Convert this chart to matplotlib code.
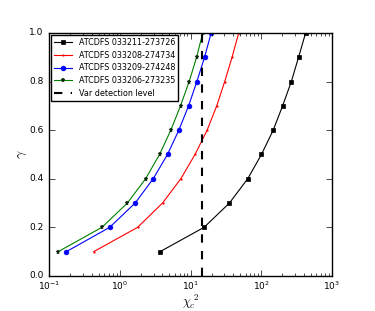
import matplotlib
matplotlib.use("Agg")
import matplotlib.pyplot as plt

gamma = [0.1, 0.2, 0.3, 0.4, 0.5, 0.6, 0.7, 0.8, 0.9, 1.0]
chi_033211 = [3.73, 15.6, 35.6, 64.5, 101, 148, 201, 267, 338, 425]
chi_033208 = [0.43, 1.79, 4.03, 7.3, 11.6, 17.2, 23.5, 30.5, 38.7, 48.1]
chi_033209 = [0.176, 0.72, 1.65, 2.97, 4.73, 6.84, 9.4, 12.3, 15.8, 19.6]
chi_033206 = [0.135, 0.56, 1.28, 2.32, 3.65, 5.27, 7.22, 9.57, 12.2, 14.9]
var_level = 14.4

plt.style.use("classic")
fig = plt.figure(figsize=(3.75, 3.11), dpi=100, facecolor="white")
ax = fig.add_axes([0.131, 0.113, 0.754, 0.781])

ax.plot(chi_033211, gamma, "k-s", ms=3.4, mew=0.5, mec="k", lw=0.8, label="ATCDFS 033211-273726")
ax.plot(chi_033208, gamma, "r.-", ms=3.2, mew=0, lw=0.8, label="ATCDFS 033208-274734")
ax.plot(chi_033209, gamma, "b-o", ms=3.4, mew=0.5, mec="b", lw=0.8, label="ATCDFS 033209-274248")
ax.plot(chi_033206, gamma, "g-*", ms=3.6, mew=0.3, mec="k", mfc="#003300", lw=0.8, label="ATCDFS 033206-273235")
ax.axvline(var_level, color="k", ls="--", lw=1.5, label="Var detection level")

ax.set_xscale("log")
ax.set_xlim(0.1, 1000)
ax.set_ylim(0, 1.0)
ax.tick_params(labelsize=6.5)
ax.tick_params(axis="x", pad=3)
ax.set_xlabel(r"$\chi_c^{\ 2}$", fontsize=9, labelpad=0)
ax.set_ylabel(r"$\gamma$", fontsize=10, labelpad=0)
ax.legend(loc="upper left", numpoints=1, fontsize=5.8, handlelength=2.2,
          borderaxespad=0.25, labelspacing=0.45)

fig.savefig("out.png", dpi=100, facecolor="white")
